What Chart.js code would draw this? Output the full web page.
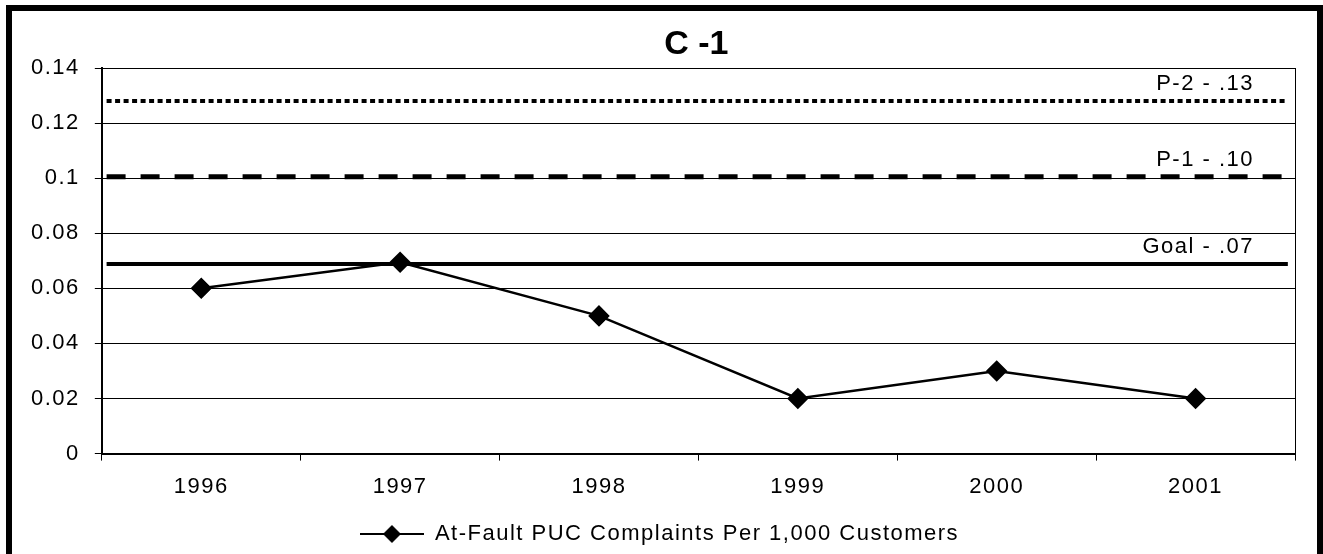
<!DOCTYPE html>
<html>
<head>
<meta charset="utf-8">
<script src="https://cdn.jsdelivr.net/npm/chart.js@4.4.1/dist/chart.umd.min.js"></script>
<style>
  html, body { margin: 0; padding: 0; background: #fff; overflow: hidden; }
  #wrap { position: relative; width: 1323px; height: 554px; overflow: hidden; }
  #frame { position: absolute; left: 6px; top: 5px; width: 1317px; height: 600px; border: 6px solid #000; box-sizing: border-box; }
  canvas { position: absolute; left: 0; top: 0; }
</style>
</head>
<body>
<div id="wrap">
  <div id="frame"></div>
  <canvas id="myChart" width="1323" height="575"></canvas>
</div>
<script>
const titleText = "C -1";
const years = ["1996", "1997", "1998", "1999", "2000", "2001"];
const complaints = [0.06, 0.0695, 0.05, 0.02, 0.03, 0.02];
const refNames = ["P-2 - .13", "P-1 - .10", "Goal - .07"];
const refValues = [0.128, 0.1005, 0.0688];
const yTicks = [0, 0.02, 0.04, 0.06, 0.08, 0.1, 0.12, 0.14];

const fontFamily = "'Liberation Sans', Arial, sans-serif";
const fontSize = 22;

// legend symbol: line with a diamond
function legendSymbol() {
  const c = document.createElement("canvas");
  c.width = 64;
  c.height = 20;
  const g = c.getContext("2d");
  g.strokeStyle = "#000";
  g.lineWidth = 2;
  g.beginPath();
  g.moveTo(0, 10);
  g.lineTo(64, 10);
  g.stroke();
  g.fillStyle = "#000";
  g.beginPath();
  g.moveTo(32, 1);
  g.lineTo(41, 10);
  g.lineTo(32, 19);
  g.lineTo(23, 10);
  g.closePath();
  g.fill();
  return c;
}

function refLine(i, dash, width) {
  return {
    label: refNames[i],
    data: [{ x: 0.004, y: refValues[i] }, { x: 0.994, y: refValues[i] }],
    xAxisID: "xr",
    borderColor: "#000",
    borderWidth: width,
    borderDash: dash,
    borderCapStyle: "butt",
    pointRadius: 0,
    fill: false,
  };
}

// excel style spaced text
const spacing = {
  id: "spacing",
  beforeUpdate(chart) {
    chart.ctx.letterSpacing = "1.5px";
  },
  beforeDraw(chart) {
    chart.ctx.letterSpacing = "1.5px";
  },
};

const extraText = {
  id: "extraText",
  afterDraw(chart) {
    const ctx = chart.ctx;
    const y = chart.scales.y;
    const area = chart.chartArea;
    ctx.save();
    ctx.fillStyle = "#000";
    ctx.letterSpacing = "1.5px";
    ctx.font = fontSize + "px " + fontFamily;
    ctx.textAlign = "right";
    ctx.textBaseline = "alphabetic";
    for (let i = 0; i < refNames.length; i++) {
      ctx.fillText(refNames[i], 1254, y.getPixelForValue(refValues[i]) - 11);
    }
    ctx.letterSpacing = "0px";
    ctx.font = "bold 34px " + fontFamily;
    ctx.textAlign = "center";
    ctx.fillText(titleText, (area.left + area.right) / 2 - 2, 54);
    ctx.restore();
  },
};

const ctx = document.getElementById("myChart").getContext("2d");
const symbol = legendSymbol();
const myChart = new Chart(ctx, {
  type: "line",
  data: {
    labels: years,
    datasets: [
      {
        label: "At-Fault PUC Complaints Per 1,000 Customers",
        data: complaints,
        borderColor: "#000",
        backgroundColor: "#000",
        borderWidth: 2.5,
        pointStyle: "rectRot",
        pointRadius: 9,
        pointHoverRadius: 9,
        tension: 0,
      },
      refLine(0, [5, 3.5], 4),
      refLine(1, [19, 15], 5),
      refLine(2, [], 4),
    ],
  },
  options: {
    responsive: false,
    animation: false,
    events: [],
    layout: { padding: { left: 16, right: 20, top: 68, bottom: 20 } },
    plugins: {
      title: { display: false },
      legend: {
        position: "bottom",
        labels: {
          color: "#000",
          font: { family: fontFamily, size: fontSize },
          usePointStyle: true,
          pointStyleWidth: 64,
          padding: 10,
          generateLabels: (chart) => [
            {
              text: chart.data.datasets[0].label,
              pointStyle: symbol,
              datasetIndex: 0,
              fontColor: "#000",
              lineWidth: 0,
            },
          ],
        },
      },
      tooltip: { enabled: false },
    },
    scales: {
      x: {
        type: "category",
        offset: true,
        grid: { offset: true, drawOnChartArea: false, color: "#000", tickLength: 7, tickWidth: 1 },
        border: { color: "#000", width: 2 },
        ticks: { color: "#000", font: { family: fontFamily, size: fontSize }, padding: 13, maxRotation: 0 },
      },
      xr: {
        type: "linear",
        display: false,
        min: 0,
        max: 1,
      },
      y: {
        min: 0,
        max: 0.14,
        afterBuildTicks: (axis) => {
          axis.ticks = yTicks.map((v) => ({ value: v }));
        },
        grid: { color: "#000", lineWidth: 1, tickLength: 7 },
        border: { color: "#000", width: 2 },
        ticks: {
          color: "#000",
          font: { family: fontFamily, size: fontSize },
          padding: 15,
          callback: (v) => String(+v.toFixed(2)),
        },
      },
      yr: {
        position: "right",
        min: 0,
        max: 0.14,
        grid: { display: false },
        border: { display: true, color: "#000", width: 1 },
        ticks: { display: false },
      },
    },
  },
  plugins: [spacing, extraText],
});
</script>
</body>
</html>
